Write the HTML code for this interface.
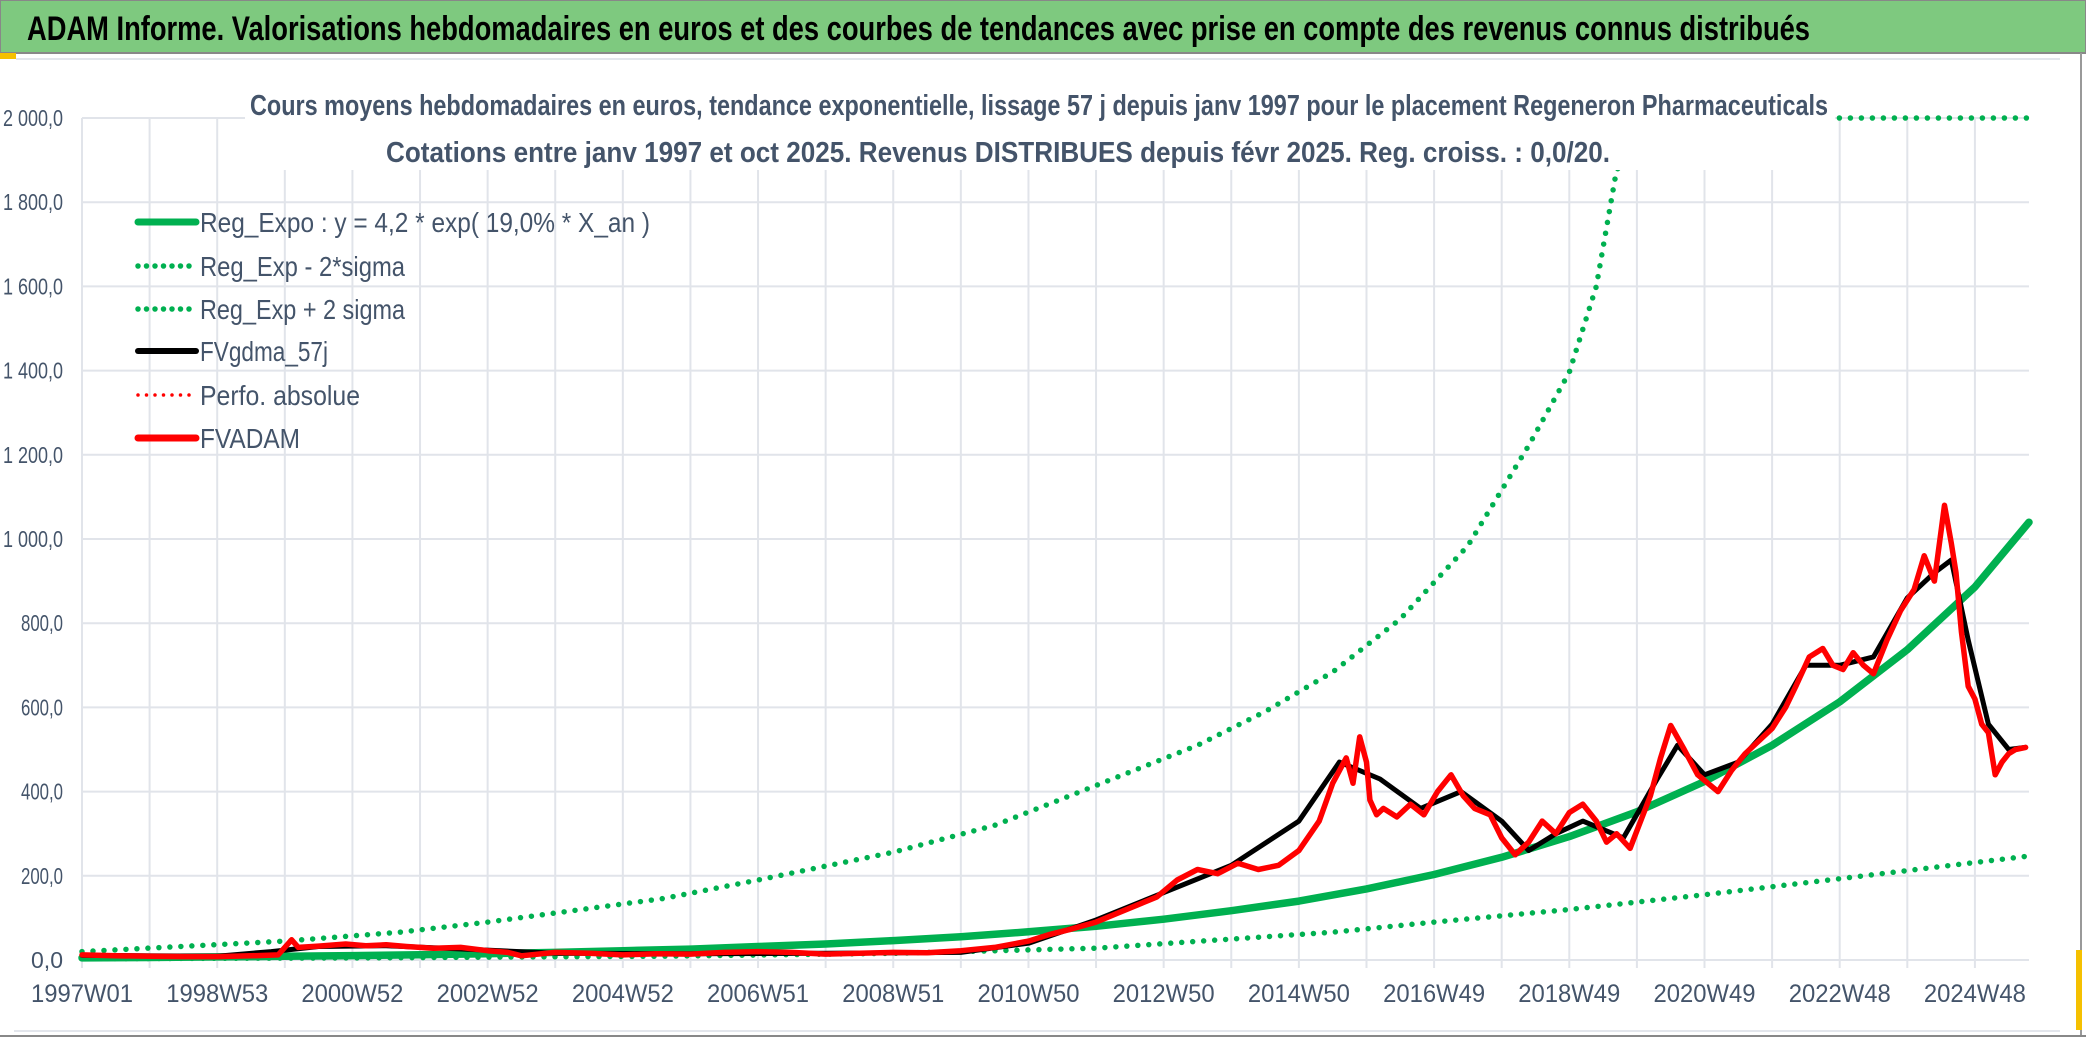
<!DOCTYPE html>
<html><head><meta charset="utf-8">
<style>
html,body{margin:0;padding:0;background:#fff;}
svg{display:block;font-family:"Liberation Sans",sans-serif;}
</style></head>
<body>
<svg id="chart" width="2086" height="1037" viewBox="0 0 2086 1037" xmlns="http://www.w3.org/2000/svg">
<rect x="0" y="0" width="2086" height="1037" fill="#fff"/>
<rect x="0" y="0" width="2086" height="53" fill="#7ec97f" stroke="#888" stroke-width="2"/>
<text x="27" y="40" font-size="34" font-weight="bold" fill="#000" textLength="1783" lengthAdjust="spacingAndGlyphs">ADAM Informe. Valorisations hebdomadaires en euros et des courbes de tendances avec prise en compte des revenus connus distribués</text>
<rect x="0" y="53" width="16" height="6" fill="#f5c000"/>
<line x1="16" y1="59" x2="2060" y2="59" stroke="#e3e6ec" stroke-width="2"/>
<line x1="14" y1="1031" x2="2060" y2="1031" stroke="#e3e6ec" stroke-width="2"/>
<line x1="2081" y1="53" x2="2081" y2="1037" stroke="#999" stroke-width="2"/>
<line x1="0" y1="1036" x2="2086" y2="1036" stroke="#888" stroke-width="2"/>
<rect x="2076" y="950" width="6" height="80" fill="#f5c000"/>
<g id="grid"></g>
<g id="series"></g>
<rect x="245" y="82" width="1590" height="88" fill="#fff"/>
<text x="250" y="115" font-size="29" font-weight="bold" fill="#44546a" textLength="1578" lengthAdjust="spacingAndGlyphs">Cours moyens hebdomadaires en euros, tendance exponentielle, lissage 57 j depuis janv 1997 pour le placement Regeneron Pharmaceuticals</text>
<text x="386" y="162" font-size="29" font-weight="bold" fill="#44546a" textLength="1224" lengthAdjust="spacingAndGlyphs">Cotations entre janv 1997 et oct 2025. Revenus DISTRIBUES depuis févr 2025. Reg. croiss. : 0,0/20.</text>
<g id="axes"></g>
<g id="legend"></g>
</svg>
<script>
const yTicks = [0,200,400,600,800,1000,1200,1400,1600,1800,2000];
const xLabels = ["1997W01","1998W53","2000W52","2002W52","2004W52","2006W51","2008W51","2010W50","2012W50","2014W50","2016W49","2018W49","2020W49","2022W48","2024W48"];
const xLabelYears = [1997,1999,2001,2003,2005,2007,2009,2011,2013,2015,2017,2019,2021,2023,2025];
const regYears = [1997,1998,1999,2000,2001,2002,2003,2004,2005,2006,2007,2008,2009,2010,2011,2012,2013,2014,2015,2016,2017,2018,2019,2020,2021,2022,2023,2024,2025,2025.8];
const regValues = [5,6,7.3,8.7,10.5,12.6,15,18,22,26,32,38,46,55,67,80,97,117,140,169,203,244,293,352,424,510,613,737,886,1040];
const upYears = [1997,2000,2001.7,2003,2005.6,2007,2009,2010.5,2011.5,2013.5,2014.5,2015.5,2016.5,2017.5,2018.4,2019,2019.4,2019.7,2020.5,2025.8];
const upValues = [20,45,66,90,146,190,256,320,383,510,590,684,810,984,1222,1396,1600,1877,2000,2000];
const lowYears = [1997,2001,2005.6,2009,2012,2015.5,2017,2019,2021,2023,2025.8];
const lowValues = [3,5,9,16,28,66,90,120,155,193,247];
const priceYears = [1997,1997.5,1998,1998.5,1999,1999.5,1999.9,2000.1,2000.2,2000.5,2000.9,2001.2,2001.5,2001.8,2002.2,2002.6,2003,2003.3,2003.5,2004,2004.5,2005,2005.5,2006,2006.5,2007,2007.5,2008,2008.5,2009,2009.5,2010,2010.5,2011,2011.3,2011.6,2012,2012.3,2012.6,2012.9,2013.2,2013.5,2013.8,2014.1,2014.4,2014.7,2015,2015.3,2015.5,2015.7,2015.8,2015.9,2016.0,2016.05,2016.15,2016.25,2016.45,2016.65,2016.85,2017.05,2017.25,2017.43,2017.6,2017.83,2018,2018.2,2018.4,2018.6,2018.8,2019.0,2019.2,2019.4,2019.55,2019.7,2019.9,2020.2,2020.35,2020.5,2020.7,2020.9,2021.05,2021.2,2021.4,2021.6,2021.8,2022.0,2022.2,2022.35,2022.55,2022.75,2022.9,2023.05,2023.2,2023.35,2023.5,2023.7,2023.9,2024.1,2024.25,2024.4,2024.55,2024.65,2024.72,2024.8,2024.9,2025.0,2025.1,2025.2,2025.3,2025.4,2025.5,2025.6,2025.75];
const priceValues = [12,10,9,8,8,10,12,48,30,33,38,34,36,32,28,30,22,18,10,18,16,12,15,14,18,20,18,14,16,18,17,22,30,45,60,72,90,110,130,150,190,215,205,230,215,225,260,330,420,480,420,530,470,380,345,360,340,370,345,400,440,390,360,345,290,250,280,330,300,350,370,330,280,300,265,390,480,557,500,440,420,400,450,490,520,550,600,650,720,740,700,690,730,700,680,760,830,880,960,900,1080,990,920,780,650,620,560,540,440,470,490,500,505];
const smoothYears = [1997,1999,1999.8,2000.5,2001.5,2002.5,2004,2006,2008,2010,2011,2012,2013,2014,2015,2015.6,2016.2,2016.8,2017.4,2018,2018.4,2018.8,2019.2,2019.8,2020.3,2020.6,2021,2021.5,2022,2022.5,2023,2023.5,2024,2024.4,2024.65,2024.9,2025.2,2025.5,2025.75];
const smoothValues = [11,9,20,32,34,27,16,15,16,18,40,95,160,225,330,470,430,360,400,330,260,300,330,290,430,510,440,470,560,700,700,720,860,920,950,760,560,500,505];

const X0=82, X1=2029, Y0=960, Y1=118;
const xs = yr => X0 + (yr-1997)/(2025.8-1997)*(X1-X0);
const ys = v => Y0 - v/2000*(Y0-Y1);
const NS="http://www.w3.org/2000/svg";
function mk(tag, parent){ const e=document.createElementNS(NS,tag); parent.appendChild(e); return e; }

const grid=document.getElementById('grid');
for(let yr=1997; yr<=2025; yr++){
  const l=mk('line',grid);
  
  
  l.setAttribute('x1',xs(yr)); l.setAttribute('x2',xs(yr));
  l.setAttribute('y1',Y1); l.setAttribute('y2',Y0+8);
  l.setAttribute('stroke','#e1e4ea'); l.setAttribute('stroke-width','2');
}
yTicks.forEach(v=>{
  const l=mk('line',grid);
  
  
  l.setAttribute('x1',X0); l.setAttribute('x2',X1);
  l.setAttribute('y1',ys(v)); l.setAttribute('y2',ys(v));
  l.setAttribute('stroke','#e1e4ea'); l.setAttribute('stroke-width','2');
});

const axes=document.getElementById('axes');
yTicks.forEach(v=>{
  const t=mk('text',axes);
  
  
  t.setAttribute('x',63); t.setAttribute('y',ys(v)+8);
  t.setAttribute('text-anchor','end'); t.setAttribute('font-size','23');
  t.setAttribute('fill','#44546a');
  if(v>=1000){ t.textContent=(Math.floor(v/1000))+' '+String(v%1000).padStart(3,'0')+',0'; t.setAttribute('textLength','60'); t.setAttribute('lengthAdjust','spacingAndGlyphs'); }
  else { t.textContent=v+',0'; if(v>0){ t.setAttribute('textLength','42'); t.setAttribute('lengthAdjust','spacingAndGlyphs'); } }
});
xLabels.forEach((s,i)=>{
  const t=mk('text',axes);
  
  
  t.setAttribute('x',xs(xLabelYears[i])); t.setAttribute('y',1002);
  t.setAttribute('text-anchor','middle'); t.setAttribute('font-size','25');
  t.setAttribute('fill','#44546a');
  t.setAttribute('textLength','102'); t.setAttribute('lengthAdjust','spacingAndGlyphs');
  t.textContent=s;
});

const series=document.getElementById('series');
function path(years, vals, name, color, width, dotted){
  const p=mk('path',series);
  
  
  let d='';
  years.forEach((yr,i)=>{ d+=(i?'L':'M')+xs(yr).toFixed(1)+' '+ys(vals[i]).toFixed(1); });
  p.setAttribute('d',d);
  p.setAttribute('fill','none'); p.setAttribute('stroke',color);
  p.setAttribute('stroke-width',width); p.setAttribute('stroke-linejoin','round');
  p.setAttribute('stroke-linecap','round');
  if(dotted) p.setAttribute('stroke-dasharray','0 11');
}
path(lowYears,lowValues,'reg-minus-2sigma-line','#00b050',5.5,true);
path(upYears,upValues,'reg-plus-2sigma-line','#00b050',5.5,true);
path(regYears,regValues,'reg-expo-line','#00b050',7.5,false);
path(smoothYears,smoothValues,'fvgdma-57j-line','#000',5,false);
path(priceYears,priceValues,'fvadam-line','#ff0000',5.5,false);

const legend=document.getElementById('legend');
const legItems=[["Reg_Expo : y = 4,2 * exp( 19,0% *  X_an )","#00b050",false,7],["Reg_Exp - 2*sigma","#00b050",true,5.5],["Reg_Exp + 2 sigma","#00b050",true,5.5],["FVgdma_57j","#000",false,6],["Perfo. absolue","#ff0000",true,3.5],["FVADAM","#ff0000",false,7]];
const legY=[222,266,309,351,395,438];
const legW=[450,205,205,128,160,100];
legItems.forEach((it,i)=>{
  const l=mk('line',legend);
  
  
  l.setAttribute('x1',138); l.setAttribute('x2',196);
  l.setAttribute('y1',legY[i]); l.setAttribute('y2',legY[i]);
  l.setAttribute('stroke',it[1]); l.setAttribute('stroke-width',it[3]);
  l.setAttribute('stroke-linecap','round');
  if(it[2]) l.setAttribute('stroke-dasharray','0 8.5');
  const t=mk('text',legend);
  
  
  t.setAttribute('x',200); t.setAttribute('y',legY[i]+10);
  t.setAttribute('font-size','28'); t.setAttribute('fill','#44546a');
  t.setAttribute('textLength',legW[i]); t.setAttribute('lengthAdjust','spacingAndGlyphs');
  t.textContent=it[0];
});
</script>
</body></html>
